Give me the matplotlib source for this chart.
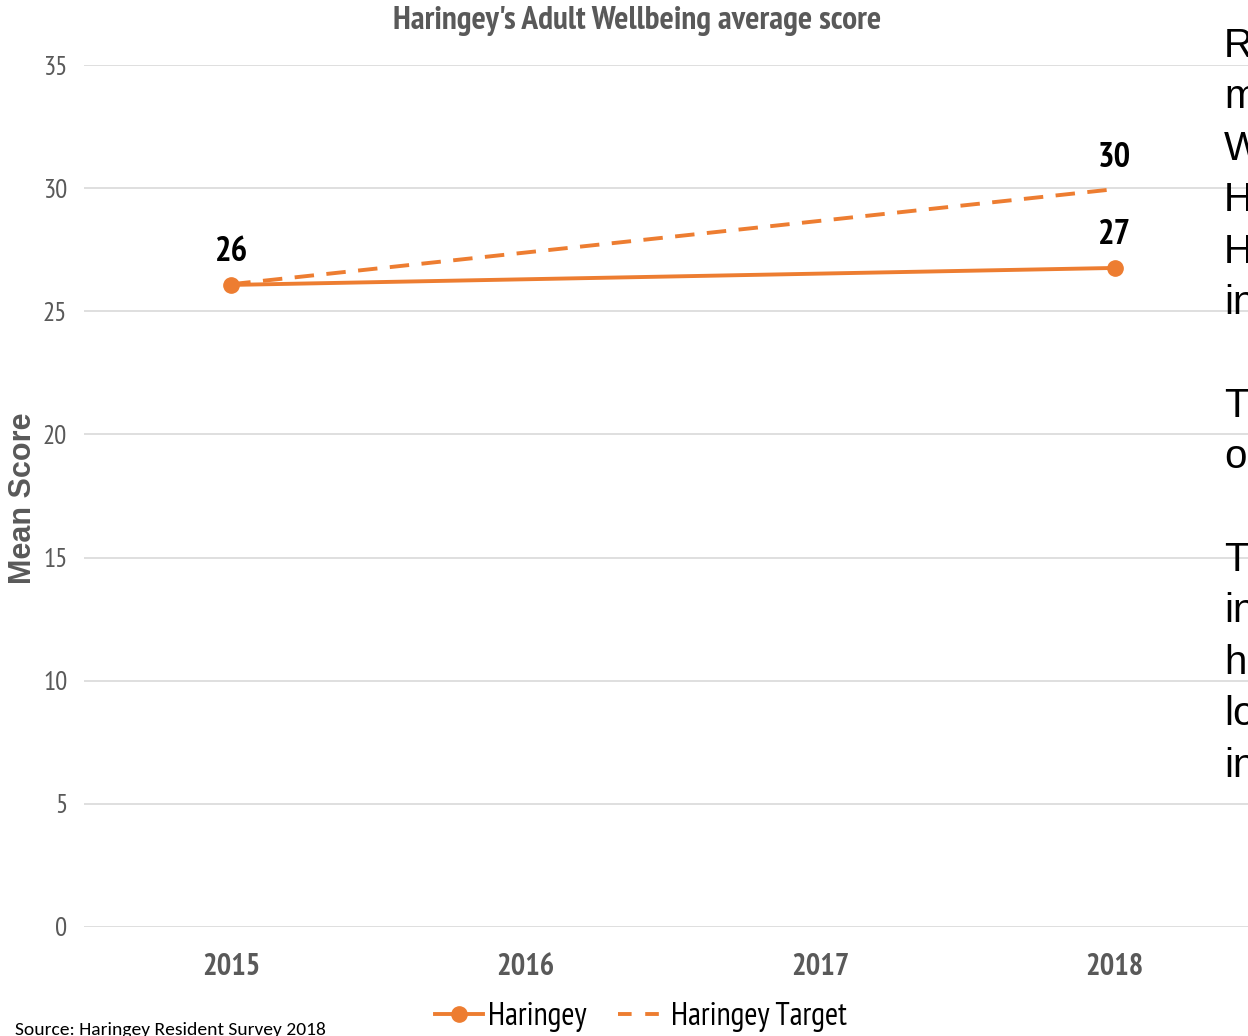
import matplotlib
matplotlib.use("Agg")
import matplotlib.pyplot as plt
from matplotlib.lines import Line2D

years = ["2015", "2016", "2017", "2018"]
haringey_x = [0, 3]
haringey = [26.07, 26.76]
target_x = [0, 3]
target = [26.1, 29.96]
haringey_labels = ["26", "27"]
target_labels = ["30"]
yticks = [0, 5, 10, 15, 20, 25, 30, 35]
side_text = ["R", "m", "W", "H", "H", "in", "", "T", "o", "", "T", "in", "h", "lo", "in"]

NARROW = ["PT Sans Narrow", "DejaVu Sans"]
ARIAL = ["Liberation Sans", "Arimo", "DejaVu Sans"]
ORANGE = "#ED7D31"
GREY = "#595959"

W, H = 1248, 1036
fig = plt.figure(figsize=(W / 100, H / 100), dpi=100)
left, right, top, bottom = 84, 1262, 65, 927
ax = fig.add_axes([left / W, 1 - bottom / H, (right - left) / W, (bottom - top) / H])
ax.set_xlim(-0.5, 3.5)
ax.set_ylim(0, 35)

for s in ax.spines.values():
    s.set_visible(False)
ax.set_yticks(yticks)
ax.yaxis.grid(True, color="#D9D9D9", linewidth=1.2)
ax.set_axisbelow(True)
ax.tick_params(length=0)
ax.set_yticklabels([str(v) for v in yticks], fontsize=19.5, color=GREY, family=NARROW)
ax.tick_params(axis="y", pad=12)
ax.set_xticks(range(len(years)))
ax.set_xticklabels(years, fontsize=22, fontweight="bold", color=GREY, family=NARROW)
ax.tick_params(axis="x", pad=19)

ax.plot(target_x, target, color=ORANGE, linewidth=2.8, linestyle=(0, (5, 3.2)), zorder=3)
ax.plot(haringey_x, haringey, color=ORANGE, linewidth=2.8, marker="o", markersize=11, zorder=4)

for x, y, lab in zip(haringey_x, haringey, haringey_labels):
    ax.annotate(lab, (x, y), xytext=(0, 12), textcoords="offset points", ha="center", va="bottom",
                fontsize=25, fontweight="bold", color="black", family=NARROW)
ax.annotate(target_labels[0], (target_x[1], target[1]), xytext=(0, 11), textcoords="offset points",
            ha="center", va="bottom", fontsize=25, fontweight="bold", color="black", family=NARROW)

fig.text(637 / W, 1 - 21 / H, "Haringey's Adult Wellbeing average score", ha="center", va="center",
         fontsize=24, fontweight="bold", color=GREY, family=NARROW)
fig.text(23 / W, 1 - 498 / H, "Mean Score", rotation=90, ha="center", va="center",
         fontsize=22, fontweight="bold", color=GREY, family=ARIAL)
fig.text(15 / W, 1 - 1030 / H, "Source: Haringey Resident Survey 2018", ha="left", va="center",
         fontsize=14, color="black", family=["Carlito", "Lato", "DejaVu Sans"])

handles = [Line2D([], [], color=ORANGE, linewidth=2.8, marker="o", markersize=11),
           Line2D([], [], color=ORANGE, linewidth=2.8, linestyle=(0, (3.5, 3.5)))]
fig.legend(handles, ["Haringey", "Haringey Target"], loc="center", bbox_to_anchor=(641 / W, 1 - 1017 / H),
           ncol=2, frameon=False, prop={"family": NARROW, "size": 23}, handlelength=1.5,
           handletextpad=0.15, columnspacing=1.0)

for i, t in enumerate(side_text):
    if t:
        fig.text(1224 / W, 1 - (46 + i * 51.4) / H, t, ha="left", va="center", fontsize=29,
                 color="black", family=ARIAL)

fig.savefig("out.png", dpi=100)
